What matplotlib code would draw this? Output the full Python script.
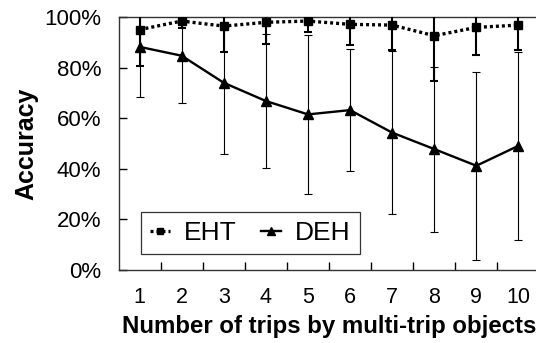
import matplotlib
matplotlib.use("Agg")
import matplotlib.pyplot as plt
from matplotlib.ticker import FuncFormatter, FixedLocator

plt.rcParams['font.family'] = ['Liberation Sans', 'DejaVu Sans']

# trips 1..10
trips = [1, 2, 3, 4, 5, 6, 7, 8, 9, 10]
eht = [95.0, 98.4, 96.4, 97.9, 98.4, 97.1, 96.8, 92.6, 95.9, 96.8]
eht_err = [14.4, 2.8, 10.4, 8.7, 4.2, 8.2, 9.8, 17.8, 10.9, 9.8]
deh = [88.2, 84.7, 74.0, 66.8, 61.5, 63.2, 54.3, 47.8, 41.2, 49.1]
deh_err = [19.8, 18.5, 28.2, 26.6, 31.3, 24.0, 32.2, 32.6, 37.2, 37.2]

fig = plt.figure(figsize=(5.36, 3.43), dpi=100)
ax = fig.add_axes([118.5 / 536, 1 - 270 / 343, 421 / 536, 253 / 343])

# error bars first so the lines sit on top
ax.errorbar(trips, deh, yerr=deh_err, fmt='none', ecolor='black',
            elinewidth=0.8, capsize=3.2, capthick=0.8, zorder=2)
ax.errorbar(trips, eht, yerr=eht_err, fmt='none', ecolor='black',
            elinewidth=1.5, capsize=3.2, capthick=1.5, zorder=3)

ax.plot(trips, eht, color='black', linestyle=(0, (0.9, 0.9)), linewidth=2.4,
        marker='s', markersize=6.2, label='EHT', zorder=4)
ax.plot(trips, deh, color='black', linestyle='-', linewidth=1.7,
        marker='^', markersize=7.5, label='DEH', zorder=4)

ax.set_xlim(0.5, 10.5)
ax.set_ylim(0, 100)
ax.set_yticks([0, 20, 40, 60, 80, 100])
ax.yaxis.set_major_formatter(FuncFormatter(lambda v, p: '%d%%' % v))
ax.set_xticks(trips)
ax.xaxis.set_minor_locator(FixedLocator([t + 0.5 for t in trips[:-1]]))
ax.tick_params(axis='x', which='major', length=0, pad=12.5, labelsize=15.5)
ax.tick_params(axis='x', which='minor', direction='in', length=6, width=1)
ax.tick_params(axis='y', direction='in', length=6, width=1, pad=12.5, labelsize=16)

for s in ax.spines.values():
    s.set_linewidth(1)
    s.set_color('#333333')

ax.set_xlabel('Number of trips by multi-trip objects', fontsize=17.3,
              fontweight='bold', labelpad=5)
ax.set_ylabel('Accuracy', fontsize=18, fontweight='bold', labelpad=4)

leg = ax.legend(loc='lower left', bbox_to_anchor=(0.053, 0.063), ncol=2,
                fontsize=19, frameon=True, fancybox=False, borderpad=0.35,
                handlelength=0.75, handletextpad=0.55, columnspacing=0.9,
                markerscale=0.75, borderaxespad=0)
leg.get_frame().set_edgecolor('black')
leg.get_frame().set_linewidth(0.9)

fig.savefig('out.png', dpi=100)
